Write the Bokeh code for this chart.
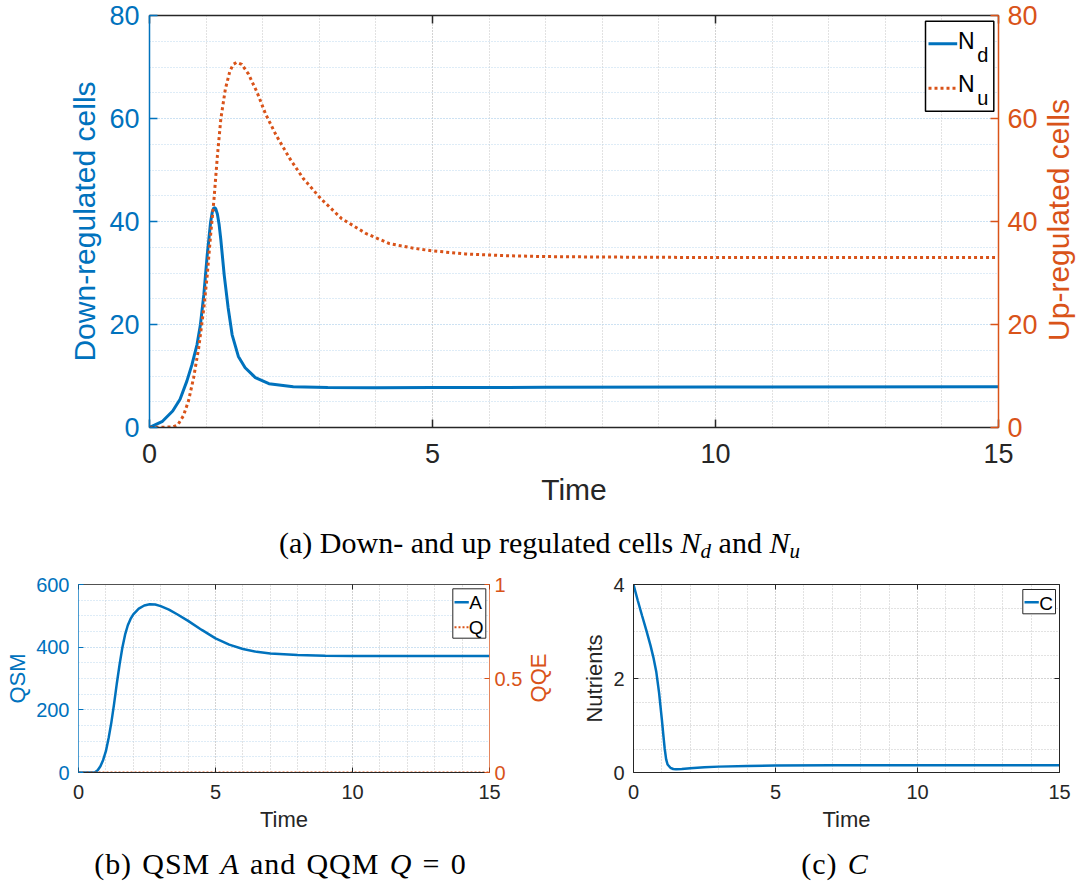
from bokeh.plotting import figure
from bokeh.models import (Range1d, LinearAxis, FixedTicker, Label, BoxAnnotation,
                          Arrow, Div, NumeralTickFormatter)
from bokeh.layouts import column, row
from bokeh.embed import file_html
from bokeh.resources import INLINE

# ---------------- data ----------------
# (a) down-regulated (left axis) and up-regulated (right axis) cells
t_nd = [0, 0.23, 0.41, 0.54, 0.66, 0.75, 0.84, 0.90, 0.96, 1.02, 1.08, 1.11, 1.14,
        1.17, 1.20, 1.23, 1.26, 1.32, 1.39, 1.46, 1.57, 1.69, 1.87, 2.11, 2.54, 3.15,
        4, 5, 7, 10, 15]
n_d = [0, 1.2, 3.2, 5.5, 9.0, 12.2, 16.1, 20.0, 25.8, 33.5, 39.9, 41.9, 42.7,
       42.5, 41.4, 39.4, 36.5, 29.6, 23.2, 18.0, 13.8, 11.6, 9.7, 8.5, 7.9, 7.75,
       7.73, 7.75, 7.8, 7.85, 7.9]
t_nu = [0, 0.41, 0.50, 0.60, 0.69, 0.78, 0.87, 0.96, 1.02, 1.08, 1.14, 1.20, 1.26,
        1.34, 1.42, 1.48, 1.54, 1.63, 1.75, 1.90, 2.05, 2.24, 2.48, 2.72, 3.03,
        3.39, 3.82, 4.24, 4.67, 5.0, 5.58, 6.19, 6.9, 8, 10, 15]
n_u = [0, 0.1, 0.5, 2.3, 5.2, 9.7, 15.5, 23.2, 29.6, 37.4, 44.4, 52.8, 59.9,
       65.7, 69.2, 70.5, 70.9, 70.5, 68.6, 65.1, 60.9, 56.7, 52.2, 48.3, 44.4,
       40.6, 37.7, 35.7, 34.8, 34.3, 33.7, 33.4, 33.2, 33.1, 33.0, 33.0]

# (b) QSM A (left axis) and QQM Q (right axis)
t_a = [0, 0.5, 0.6, 0.7, 0.8, 0.9, 1.0, 1.1, 1.2, 1.3, 1.4, 1.5, 1.6, 1.7, 1.8,
       1.9, 2.0, 2.2, 2.4, 2.6, 2.8, 3.0, 3.3, 3.6, 4.0, 4.5, 5.0, 5.5, 6.0, 6.5,
       7.0, 8.0, 9.0, 10, 12, 15]
qsm_a = [0, 0, 1, 7, 20, 40, 68, 110, 160, 220, 285, 345, 398, 440, 470,
         490, 505, 523, 533, 537, 536, 531, 520, 505, 484, 455, 428, 408, 394, 385,
         380, 375, 373, 372, 372, 372]
t_q = [0, 15]
qqm_q = [0, 0]

# (c) nutrients C
t_c = [0, 0.15, 0.3, 0.45, 0.6, 0.7, 0.8, 0.9, 1.0, 1.05, 1.1, 1.15, 1.2, 1.3,
       1.4, 1.5, 1.7, 2.0, 2.5, 3.0, 4.0, 5.0, 7.0, 10, 15]
nutr_c = [4.0, 3.66, 3.34, 3.03, 2.70, 2.45, 2.15, 1.70, 1.12, 0.80, 0.50, 0.28,
          0.17, 0.10, 0.075, 0.07, 0.075, 0.09, 0.11, 0.125, 0.14, 0.15, 0.155,
          0.156, 0.156]

# ticks
time_ticks = [0, 5, 10, 15]
time_minor = list(range(0, 16))
cells_ticks = [0, 20, 40, 60, 80]
cells_minor = list(range(0, 81, 5))
qsm_ticks = [0, 200, 400, 600]
qsm_minor = list(range(0, 601, 50))
qqe_ticks = [0, 0.5, 1]
nutr_ticks = [0, 2, 4]
nutr_minor = [0, 0.5, 1, 1.5, 2, 2.5, 3, 3.5, 4]

# ---------------- style ----------------
BLUE = "#0072BD"
ORANGE = "#D95319"
DARK = "#262626"
GRID_GRAY = "#c4c4c4"
GRID_BLUE = "#bcd9ee"
FONT = "Liberation Sans"
SERIF = "'Liberation Serif', serif"


def style_axis(ax, color, tick_px, label_px, tick_len, standoff, label_standoff,
               line_color=None, line_width=1, line_alpha=1.0, hide_labels=False):
    ax.axis_line_color = line_color or color
    ax.axis_line_width = line_width
    ax.axis_line_alpha = line_alpha
    ax.major_tick_line_color = line_color or color
    ax.major_tick_line_width = line_width
    ax.major_tick_in = tick_len
    ax.major_tick_out = 0
    ax.minor_tick_line_color = None
    ax.major_label_text_font = FONT
    if hide_labels:
        ax.major_label_text_color = None
        ax.major_label_text_font_size = "1px"
        ax.major_label_standoff = 0
    else:
        ax.major_label_text_color = color
        ax.major_label_text_font_size = f"{tick_px}px"
        ax.major_label_standoff = standoff
    ax.axis_label_text_color = color
    ax.axis_label_text_font = FONT
    ax.axis_label_text_font_style = "normal"
    ax.axis_label_text_font_size = f"{label_px}px"
    ax.axis_label_standoff = label_standoff


def style_grid(g, color):
    g.grid_line_color = color
    g.grid_line_dash = "1 2"
    g.grid_line_width = 1
    g.minor_grid_line_color = color
    g.minor_grid_line_dash = "1 2"
    g.minor_grid_line_width = 1


def add_legend_box(p, l, r, t, b, color, width):
    p.add_layout(BoxAnnotation(left=l, right=r, top=t, bottom=b,
                               left_units="screen", right_units="screen",
                               top_units="screen", bottom_units="screen",
                               fill_color="white", fill_alpha=1.0,
                               line_color=color, line_width=width, line_alpha=1.0))


def add_sample(p, x0, x1, y, color, width, dash="solid"):
    p.add_layout(Arrow(end=None, x_start=x0, y_start=y, x_end=x1, y_end=y,
                       start_units="screen", end_units="screen",
                       line_color=color, line_width=width, line_dash=dash))


def add_text(p, x, y, text, size, color="black"):
    p.add_layout(Label(x=x, y=y, x_units="screen", y_units="screen", text=text,
                       text_font=FONT, text_font_size=f"{size}px", text_color=color,
                       text_baseline="middle", text_align="left"))


def base_fig(width, height, xr, yr, bl, br, bt, bb):
    p = figure(width=width, height=height, x_range=xr, y_range=yr,
               output_backend="svg", toolbar_location=None,
               min_border_left=bl, min_border_right=br,
               min_border_top=bt, min_border_bottom=bb)
    p.outline_line_color = None
    p.background_fill_color = "white"
    p.border_fill_color = "white"
    return p


def side_title(text, width, height, cx, cy, size, color):
    """Right-hand axis title, reading bottom-to-top as in MATLAB."""
    inner = (f"position:absolute;left:{cx}px;top:{cy}px;"
             f"transform:translate(-50%,-50%) rotate(-90deg);white-space:nowrap;"
             f"font-family:'{FONT}';font-size:{size}px;line-height:{size}px;color:{color};")
    html = (f'<div style="position:relative;width:{width}px;height:{height}px;'
            f'overflow:visible;"><div style="{inner}">{text}</div></div>')
    return Div(text=html, width=width, height=height, margin=(0, 0, 0, 0))


# ================= (a) top figure =================
pa = base_fig(1040, 515, Range1d(0, 15), Range1d(0, 80), 149, 42, 15, 88)
pa.extra_y_ranges = {"right": Range1d(0, 80)}
xa = pa.below[0]
ya = pa.left[0]
xa.ticker = FixedTicker(ticks=time_ticks, minor_ticks=time_minor)
ya.ticker = FixedTicker(ticks=cells_ticks, minor_ticks=cells_minor)
xa.axis_label = "Time"
ya.axis_label = "Down-regulated cells"
style_axis(xa, DARK, 27, 30, 8, 12, 7, line_width=1.5)
style_axis(ya, BLUE, 27, 30, 8, 6, 5, line_width=1.5)
style_grid(pa.xgrid[0], GRID_GRAY)
style_grid(pa.ygrid[0], GRID_BLUE)

ra = LinearAxis(y_range_name="right", ticker=FixedTicker(ticks=cells_ticks))
style_axis(ra, ORANGE, 27, 30, 8, 9, 0, line_width=1.5)
pa.add_layout(ra, "right")
ta = LinearAxis(ticker=FixedTicker(ticks=time_ticks))
style_axis(ta, DARK, 27, 30, 8, 0, 0, line_width=1.5, hide_labels=True)
pa.add_layout(ta, "above")

pa.line(t_nd, n_d, line_color=BLUE, line_width=3)
pa.line(t_nu, n_u, y_range_name="right", line_color=ORANGE, line_width=3,
        line_dash="3 3")

# legend (positions relative to the plot frame, screen px)
FL, FB = 149, 427
add_legend_box(pa, 925 - FL, 993.3 - FL, FB - 20.7, FB - 110.7, "black", 1.5)
add_sample(pa, 928 - FL, 956.7 - FL, FB - 43.3, BLUE, 3)
add_text(pa, 957.5 - FL, FB - 40.0, "N", 23)
add_text(pa, 976.8 - FL, FB - 54.8, "d", 20)
add_sample(pa, 928 - FL, 956.7 - FL, FB - 87.7, ORANGE, 3, "3 3")
add_text(pa, 957.5 - FL, FB - 83.9, "N", 23)
add_text(pa, 976.8 - FL, FB - 97.1, "u", 20)

title_ra = side_title("Up-regulated cells", 39, 515, 19, 220, 30, ORANGE)

# ================= (b) bottom-left figure =================
pb = base_fig(525, 270, Range1d(0, 15), Range1d(0, 600), 78, 36, 19, 63)
pb.extra_y_ranges = {"right": Range1d(0, 1)}
xb = pb.below[0]
yb = pb.left[0]
xb.ticker = FixedTicker(ticks=time_ticks, minor_ticks=time_minor)
yb.ticker = FixedTicker(ticks=qsm_ticks, minor_ticks=qsm_minor)
xb.axis_label = "Time"
yb.axis_label = "QSM"
style_axis(xb, DARK, 20, 22, 5, 8, 5)
style_axis(yb, BLUE, 20, 22, 5, 5, 3, line_alpha=0.7)
style_grid(pb.xgrid[0], GRID_GRAY)
style_grid(pb.ygrid[0], GRID_BLUE)
rb = LinearAxis(y_range_name="right", ticker=FixedTicker(ticks=qqe_ticks),
                formatter=NumeralTickFormatter(format="0.[0]"))
style_axis(rb, ORANGE, 20, 22, 5, 5, 0, line_alpha=0.7)
pb.add_layout(rb, "right")
tb = LinearAxis(ticker=FixedTicker(ticks=time_ticks))
style_axis(tb, DARK, 20, 22, 5, 0, 0, line_alpha=0.8, hide_labels=True)
pb.add_layout(tb, "above")

pb.line(t_a, qsm_a, line_color=BLUE, line_width=2.5)
pb.line(t_q, qqm_q, y_range_name="right", line_color=ORANGE, line_width=2,
        line_dash="2 2")

GL, GB = 78, 772
add_legend_box(pb, 452.3 - GL, 485.3 - GL, GB - 588.3, GB - 637.7, DARK, 1)
add_sample(pb, 454 - GL, 468.3 - GL, GB - 601.7, BLUE, 2.5)
add_text(pb, 468.8 - GL, GB - 601.7, "A", 19)
add_sample(pb, 454 - GL, 468.3 - GL, GB - 626.7, ORANGE, 2, "2 2")
add_text(pb, 468.3 - GL, GB - 626.7, "Q", 19)

title_rb = side_title("QQE", 30, 270, 14, 113, 22, ORANGE)

# ================= (c) bottom-right figure =================
pc = base_fig(524, 270, Range1d(0, 15), Range1d(0, 4), 78, 20, 19, 63)
xc = pc.below[0]
yc = pc.left[0]
xc.ticker = FixedTicker(ticks=time_ticks, minor_ticks=time_minor)
yc.ticker = FixedTicker(ticks=nutr_ticks, minor_ticks=nutr_minor)
xc.axis_label = "Time"
yc.axis_label = "Nutrients"
style_axis(xc, DARK, 20, 22, 5, 8, 5)
style_axis(yc, DARK, 20, 22, 5, 5, 3)
style_grid(pc.xgrid[0], GRID_GRAY)
style_grid(pc.ygrid[0], GRID_GRAY)
rc = LinearAxis(ticker=FixedTicker(ticks=nutr_ticks))
style_axis(rc, DARK, 20, 22, 5, 0, 0, hide_labels=True)
pc.add_layout(rc, "right")
tc = LinearAxis(ticker=FixedTicker(ticks=time_ticks))
style_axis(tc, DARK, 20, 22, 5, 0, 0, hide_labels=True)
pc.add_layout(tc, "above")

pc.line(t_c, nutr_c, line_color=BLUE, line_width=2.5)

HL, HB = 633, 772
add_legend_box(pc, 1022.3 - HL, 1055 - HL, HB - 589, HB - 613.3, DARK, 1)
add_sample(pc, 1024 - HL, 1038.3 - HL, HB - 601.7, BLUE, 2.5)
add_text(pc, 1038.8 - HL, HB - 602.5, "C", 19)

# ================= captions =================
def caption(html, width, pad_top, pad_left=0, extra=""):
    style = (f"font-family:{SERIF};font-size:30px;line-height:30px;color:black;"
             f"text-align:center;white-space:nowrap;width:{width}px;"
             f"padding-top:{pad_top}px;padding-left:{pad_left}px;box-sizing:border-box;{extra}")
    return Div(text=f'<div style="{style}">{html}</div>', width=width, height=50,
               margin=(0, 0, 0, 0))


def sub(s):
    return f'<span style="font-size:21px;position:relative;top:0.25em">{s}</span>'


div_a = caption(f"(a) Down- and up regulated cells <i>N{sub('d')}</i> and <i>N{sub('u')}</i>",
                1079, 13)
div_b = caption("(b) QSM <i>A</i> and QQM <i>Q</i> = 0", 555, 14, 6,
                "letter-spacing:0.9px;word-spacing:2px;")
div_c = caption("(c) <i>C</i>", 524, 14, 36, "letter-spacing:0.9px;word-spacing:2px;")

layout = column(
    row(pa, title_ra, spacing=0),
    div_a,
    row(column(row(pb, title_rb, spacing=0), div_b, spacing=0),
        column(pc, div_c, spacing=0), spacing=0),
    spacing=0)

with open("out.html", "w") as f:
    f.write(file_html(layout, INLINE))
